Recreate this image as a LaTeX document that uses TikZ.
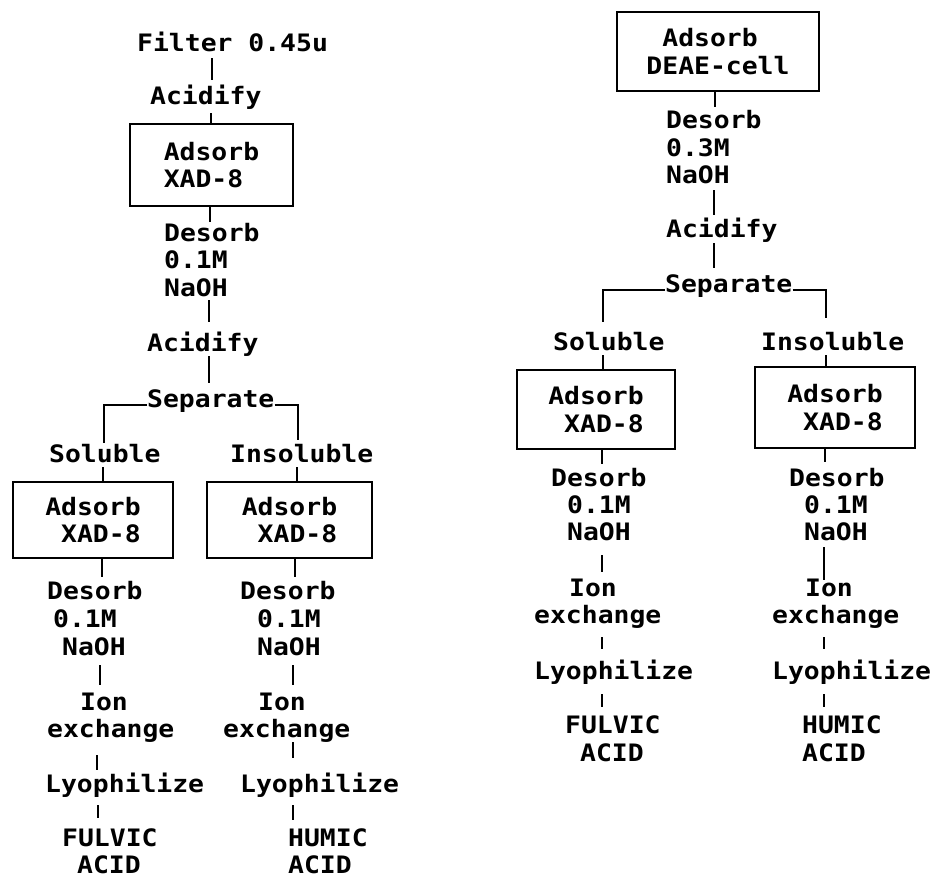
\documentclass[tikz,border=0pt]{standalone}
\usepackage{fontspec}
\newfontfamily\dmfont[FakeStretch=1.1]{DejaVu Sans Mono}
\newcommand{\dm}{\dmfont\bfseries\fontsize{24}{27.5}\selectfont}
\newcommand{\ind}{\phantom{A}}
\begin{document}
\begin{tikzpicture}[x=1pt,y=-1pt,
  txt/.style={inner sep=0pt, anchor=base west, text height=16pt, text depth=0pt, font=\dm},
  procbox/.style={draw, line width=1.8pt, inner sep=0pt, align=left, font=\dm},
  conn/.style={line width=1.8pt}]
\fill[white] (0,0) rectangle (934,878);
\useasboundingbox (0,0) rectangle (934,878);

% ---------------- left diagram ----------------
\node[txt] (filt) at (137,51) {Filter 0.45u};
\node[txt] (acA) at (150,104) {Acidify};
\node[procbox, minimum width=163pt, minimum height=82pt] (bx1) at (211.5,165) {Adsorb\\XAD-8};
\node[txt] (dsA1) at (164,241) {Desorb};
\node[txt] (dsA2) at (164,268) {0.1M};
\node[txt] (dsA3) at (164,296) {NaOH};
\node[txt] (acB) at (147,351) {Acidify};
\node[txt] (sepA) at (147,407) {Separate};
\node[txt] (solA) at (49,462) {Soluble};
\node[txt] (insA) at (230,462) {Insoluble};
\node[procbox, minimum width=160pt, minimum height=76pt] (bxAL) at (93,520) {Adsorb\\\ind XAD-8};
\node[procbox, minimum width=165pt, minimum height=76pt] (bxAR) at (289.5,520) {Adsorb\\\ind XAD-8};
% left branch
\node[txt] (dsL1) at (47,599) {Desorb};
\node[txt] (dsL2) at (53,627) {0.1M};
\node[txt] (dsL3) at (62,655) {NaOH};
\node[txt] (ionL) at (80,710) {Ion};
\node[txt] (exL) at (47,737) {exchange};
\node[txt] (lyL) at (45,792) {Lyophilize};
\node[txt] (fuL1) at (62,846) {FULVIC};
\node[txt] (fuL2) at (77,873) {ACID};
% right branch
\node[txt] (dsR1) at (240,599) {Desorb};
\node[txt] (dsR2) at (257,627) {0.1M};
\node[txt] (dsR3) at (257,655) {NaOH};
\node[txt] (ionR) at (258,710) {Ion};
\node[txt] (exR) at (223,737) {exchange};
\node[txt] (lyR) at (240,792) {Lyophilize};
\node[txt] (huR1) at (288,846) {HUMIC};
\node[txt] (huR2) at (288,873) {ACID};

\draw[conn, shorten <=7pt, shorten >=8pt] (212,0 |- filt.south) -- (212,0 |- acA.north);
\draw[conn, shorten <=9pt] (211,0 |- acA.south) -- (211,0 |- bx1.north);
\draw[conn, shorten >=3pt] (210,0 |- bx1.south) -- (210,0 |- dsA1.north);
\draw[conn, shorten <=4pt, shorten >=13pt] (209,0 |- dsA3.south) -- (209,0 |- acB.north);
\draw[conn, shorten <=5pt, shorten >=8pt] (209,0 |- acB.south) -- (209,0 |- sepA.north);
\draw[conn, shorten >=3pt] (sepA.mid west) -| (104,0 |- solA.north);
\draw[conn, shorten >=6pt] (sepA.mid east) -| (298,0 |- insA.north);
\draw[conn, shorten <=5pt] (103,0 |- solA.south) -- (103,0 |- bxAL.north);
\draw[conn, shorten <=5pt] (297,0 |- insA.south) -- (297,0 |- bxAR.north);
\draw[conn, shorten >=6pt] (102,0 |- bxAL.south) -- (102,0 |- dsL1.north);
\draw[conn, shorten >=6pt] (295,0 |- bxAR.south) -- (295,0 |- dsR1.north);
\draw[conn, shorten <=10pt, shorten >=9pt] (100,0 |- dsL3.south) -- (100,0 |- ionL.north);
\draw[conn, shorten <=10pt, shorten >=9pt] (293,0 |- dsR3.south) -- (293,0 |- ionR.north);
\draw[conn, shorten <=18pt, shorten >=6pt] (97,0 |- exL.south) -- (97,0 |- lyL.north);
\draw[conn, shorten <=5pt, shorten >=18pt] (293,0 |- exR.south) -- (293,0 |- lyR.north);
\draw[conn, shorten <=13pt, shorten >=12pt] (98,0 |- lyL.south) -- (98,0 |- fuL1.north);
\draw[conn, shorten <=13pt, shorten >=10pt] (293,0 |- lyR.south) -- (293,0 |- huR1.north);

% ---------------- right diagram ----------------
\node[procbox, minimum width=202pt, minimum height=79pt] (bxT) at (718,51.5) {\ind Adsorb\\DEAE-cell};
\node[txt] (dsT1) at (666,128) {Desorb};
\node[txt] (dsT2) at (666,156) {0.3M};
\node[txt] (dsT3) at (666,183) {NaOH};
\node[txt] (acT) at (666,237) {Acidify};
\node[txt] (sepT) at (665,292) {Separate};
\node[txt] (solT) at (553,350) {Soluble};
\node[txt] (insT) at (761,350) {Insoluble};
\node[procbox, minimum width=158pt, minimum height=79pt] (bxBL) at (596,409.5) {Adsorb\\\ind XAD-8};
\node[procbox, minimum width=160pt, minimum height=81pt] (bxBR) at (835,407.5) {Adsorb\\\ind XAD-8};
% left branch
\node[txt] (dsBL1) at (551,486) {Desorb};
\node[txt] (dsBL2) at (567,513) {0.1M};
\node[txt] (dsBL3) at (567,540) {NaOH};
\node[txt] (ionBL) at (569,596) {Ion};
\node[txt] (exBL) at (534,623) {exchange};
\node[txt] (lyBL) at (534,679) {Lyophilize};
\node[txt] (fuBL1) at (565,733) {FULVIC};
\node[txt] (fuBL2) at (580,761) {ACID};
% right branch
\node[txt] (dsBR1) at (789,486) {Desorb};
\node[txt] (dsBR2) at (804,513) {0.1M};
\node[txt] (dsBR3) at (804,540) {NaOH};
\node[txt] (ionBR) at (805,596) {Ion};
\node[txt] (exBR) at (772,623) {exchange};
\node[txt] (lyBR) at (772,679) {Lyophilize};
\node[txt] (huBR1) at (802,733) {HUMIC};
\node[txt] (huBR2) at (802,761) {ACID};

\draw[conn, shorten >=5pt] (715,0 |- bxT.south) -- (715,0 |- dsT1.north);
\draw[conn, shorten <=7pt, shorten >=6pt] (714,0 |- dsT3.south) -- (714,0 |- acT.north);
\draw[conn, shorten <=6pt, shorten >=8pt] (714,0 |- acT.south) -- (714,0 |- sepT.north);
\draw[conn, shorten >=12pt] (sepT.mid west) -| (603,0 |- solT.north);
\draw[conn, shorten >=16pt] (sepT.mid east) -| (826,0 |- insT.north);
\draw[conn, shorten <=5pt] (603,0 |- solT.south) -- (603,0 |- bxBL.north);
\draw[conn, shorten <=5pt] (826,0 |- insT.south) -- (826,0 |- bxBR.north);
\draw[conn, shorten >=6pt] (602,0 |- bxBL.south) -- (602,0 |- dsBL1.north);
\draw[conn, shorten >=8pt] (825,0 |- bxBR.south) -- (825,0 |- dsBR1.north);
\draw[conn, shorten <=15pt, shorten >=8pt] (602,0 |- dsBL3.south) -- (602,0 |- ionBL.north);
\draw[conn, shorten <=7pt] (824,0 |- dsBR3.south) -- (824,0 |- ionBR.north);
\draw[conn, shorten <=14pt, shorten >=14pt] (602,0 |- exBL.south) -- (602,0 |- lyBL.north);
\draw[conn, shorten <=14pt, shorten >=14pt] (824,0 |- exBR.south) -- (824,0 |- lyBR.north);
\draw[conn, shorten <=15pt, shorten >=10pt] (602,0 |- lyBL.south) -- (602,0 |- fuBL1.north);
\draw[conn, shorten <=15pt, shorten >=10pt] (824,0 |- lyBR.south) -- (824,0 |- huBR1.north);
\end{tikzpicture}
\end{document}
